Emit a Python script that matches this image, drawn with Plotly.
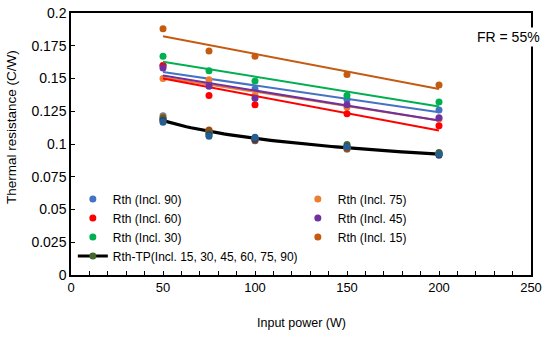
import numpy as np
import plotly.graph_objects as go

# ---- data ----
power = [50, 75, 100, 150, 200]
rth90 = [0.160, 0.146, 0.142, 0.134, 0.126]
rth75 = [0.150, 0.149, 0.137, 0.128, 0.119]
rth60 = [0.160, 0.137, 0.130, 0.123, 0.114]
rth45 = [0.158, 0.144, 0.135, 0.130, 0.120]
rth30 = [0.167, 0.156, 0.148, 0.137, 0.132]
rth15 = [0.188, 0.171, 0.167, 0.153, 0.145]

tp15 = [0.1216, 0.1100, 0.1030, 0.0960, 0.0920]
tp30 = [0.1186, 0.1090, 0.1040, 0.0975, 0.0925]
tp45 = [0.1200, 0.1107, 0.1025, 0.0965, 0.0930]
tp60 = [0.1190, 0.1080, 0.1045, 0.0997, 0.0935]
tp75 = [0.1180, 0.1070, 0.1035, 0.0980, 0.0915]
tp90 = [0.1166, 0.1060, 0.1051, 0.0977, 0.0924]

series = [
    ("Rth (Incl. 90)", rth90, "#4472C4"),
    ("Rth (Incl. 75)", rth75, "#ED7D31"),
    ("Rth (Incl. 60)", rth60, "#FF0000"),
    ("Rth (Incl. 45)", rth45, "#7030A0"),
    ("Rth (Incl. 30)", rth30, "#00B050"),
    ("Rth (Incl. 15)", rth15, "#C55A11"),
]
tp_series = [
    (tp15, "#7F7F7F"),
    (tp30, "#997300"),
    (tp45, "#9E480E"),
    (tp60, "#43682B"),
    (tp75, "#264478"),
    (tp90, "#255E91"),
]

fig = go.Figure()
xs = np.array(power, dtype=float)
xfit = np.linspace(min(power), max(power), 60)

for name, vals, col in series:
    fig.add_trace(go.Scatter(x=power, y=vals, mode="markers", name=name,
                             marker=dict(color=col, size=7)))
    k, b = np.polyfit(xs, np.array(vals), 1)
    fig.add_trace(go.Scatter(x=xfit, y=k * xfit + b, mode="lines", showlegend=False,
                             line=dict(color=col, width=2), hoverinfo="skip"))

# TP power trendline
all_x = np.concatenate([xs for _ in tp_series])
all_y = np.concatenate([np.array(v) for v, _ in tp_series])
bp, lna = np.polyfit(np.log(all_x), np.log(all_y), 1)
fig.add_trace(go.Scatter(x=xfit, y=np.exp(lna) * xfit ** bp, mode="lines", showlegend=False,
                         line=dict(color="black", width=3.2), hoverinfo="skip"))
for vals, col in tp_series:
    fig.add_trace(go.Scatter(x=power, y=vals, mode="markers", showlegend=False,
                             marker=dict(color=col, size=7)))

# legend entry for TP
fig.add_trace(go.Scatter(x=[None], y=[None], mode="lines+markers",
                         name="Rth-TP(Incl. 15, 30, 45, 60, 75, 90)",
                         line=dict(color="black", width=3),
                         marker=dict(color="#43682B", size=7)))

axis_common = dict(showline=True, linecolor="black", linewidth=1.5, mirror=True,
                   showgrid=False, zeroline=False, ticks="inside", tickcolor="black",
                   ticklen=4, tickwidth=1, automargin=False)

fig.update_xaxes(range=[0, 250], dtick=50, tick0=0,
                 minor=dict(dtick=10, ticks="inside", ticklen=4, tickcolor="black"),
                 tickfont=dict(size=13, color="black"),
                 **axis_common)
fig.update_yaxes(range=[0, 0.2], dtick=0.025, tick0=0,
                 tickfont=dict(size=14, color="black"),
                 **axis_common)

fig.add_annotation(text="Input power (W)", x=0.5, y=-0.184, xref="paper", yref="paper",
                   xanchor="center", yanchor="middle", showarrow=False,
                   font=dict(size=12.5, color="black"))
fig.add_annotation(text="Thermal resistance (C/W)", x=-0.128, y=0.565, xref="paper", yref="paper",
                   xanchor="center", yanchor="middle", showarrow=False, textangle=-90,
                   font=dict(size=13.5, color="black"))
fig.add_annotation(text="FR = 55%", x=0.952, y=0.908, xref="paper", yref="paper",
                   xanchor="center", yanchor="middle", bgcolor="white",
                   showarrow=False, font=dict(size=14, color="black"))

fig.update_layout(
    width=550, height=337,
    margin=dict(l=71, r=19, t=13, b=62),
    paper_bgcolor="white", plot_bgcolor="white",
    font=dict(family="Liberation Sans, Arial, sans-serif", color="black"),
    legend=dict(orientation="h", x=0.004, y=0.345, xanchor="left", yanchor="top",
                entrywidth=180, itemwidth=30, font=dict(size=12, color="black"),
                bgcolor="rgba(0,0,0,0)", tracegroupgap=0),
    showlegend=True,
)

fig.write_html("out.html", config={"displayModeBar": False},
               post_script="document.body.style.margin='0';")
